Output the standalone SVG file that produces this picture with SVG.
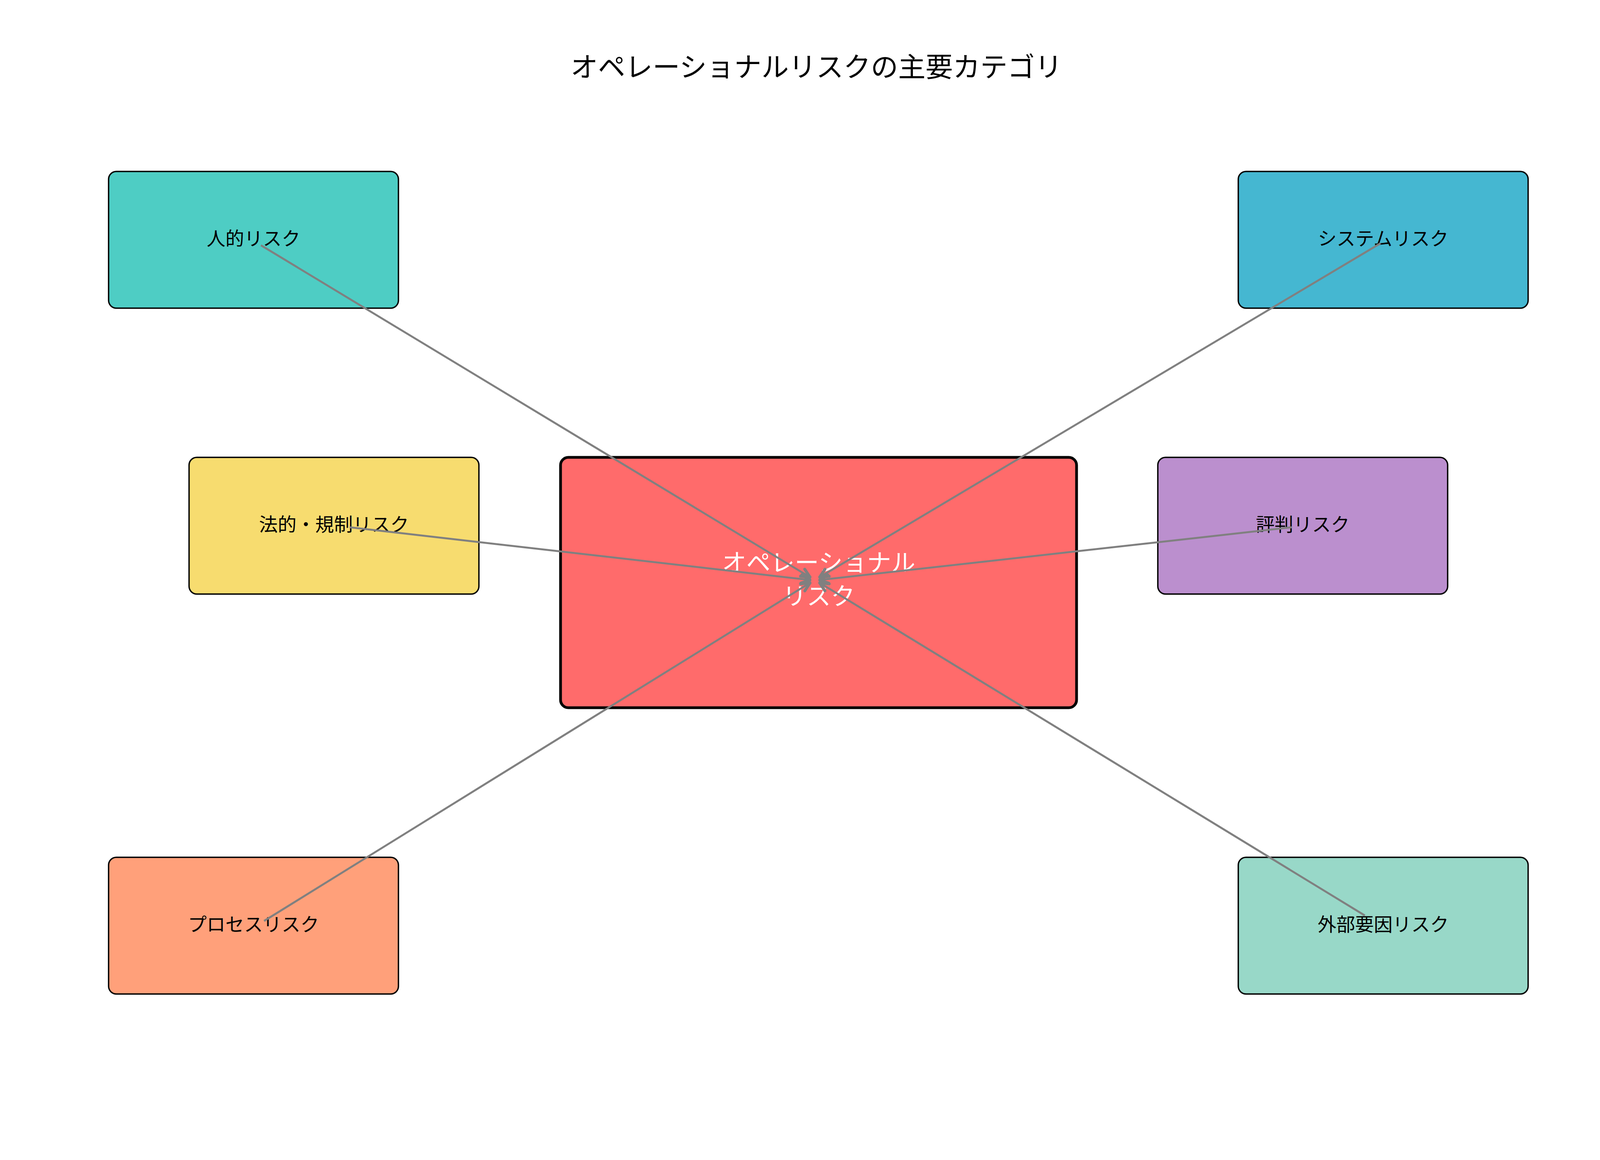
<svg xmlns="http://www.w3.org/2000/svg" width="4170" height="2970" viewBox="0 0 4170 2970">
<style>
text{font-family:"Noto Sans CJK JP","Liberation Sans",sans-serif;text-anchor:middle;dominant-baseline:central}
.n rect{stroke:#000;stroke-width:3.5}
.n text{font-size:48px;fill:#000}
.c{stroke:#808080;stroke-width:5;fill:none;marker-end:url(#ah)}
</style>
<defs>
<marker id="ah" viewBox="0 0 10 10" refX="9" refY="5" markerWidth="6" markerHeight="6" orient="auto" markerUnits="strokeWidth">
<path d="M1.5,1.5 L9,5 L1.5,8.5" fill="none" stroke="#808080" stroke-width="2.5" stroke-linecap="round" stroke-linejoin="round"/>
</marker>
</defs>
<rect width="4170" height="2970" fill="#fff"/>
<text x="2090" y="166" font-size="70">オペレーショナルリスクの主要カテゴリ</text>
<g id="center" class="n"><rect x="1435" y="1171" width="1321" height="641" rx="20" fill="#FF6B6B" style="stroke-width:7"/>
<text x="2096" y="1436" style="font-size:62px;fill:#fff">オペレーショナル</text>
<text x="2096" y="1522" style="font-size:62px;fill:#fff">リスク</text></g>
<g id="human" class="n"><rect x="278" y="439" width="742" height="350" rx="20" fill="#4ECDC4"/><text x="649" y="607">人的リスク</text></g>
<g id="system" class="n"><rect x="3170" y="439" width="742" height="350" rx="20" fill="#45B7D1"/><text x="3541" y="607">システムリスク</text></g>
<g id="legal" class="n"><rect x="484" y="1171" width="742" height="350" rx="20" fill="#F7DC6F"/><text x="855" y="1339">法的・規制リスク</text></g>
<g id="reputation" class="n"><rect x="2964" y="1171" width="742" height="350" rx="20" fill="#BB8FCE"/><text x="3335" y="1339">評判リスク</text></g>
<g id="process" class="n"><rect x="278" y="2195" width="742" height="350" rx="20" fill="#FFA07A"/><text x="649" y="2363">プロセスリスク</text></g>
<g id="external" class="n"><rect x="3170" y="2195" width="742" height="350" rx="20" fill="#98D8C8"/><text x="3541" y="2363">外部要因リスク</text></g>
<g id="connectors">
<line class="c" x1="668" y1="628" x2="2074" y2="1478"/>
<line class="c" x1="895" y1="1350" x2="2074" y2="1485"/>
<line class="c" x1="676" y1="2358" x2="2074" y2="1492"/>
<line class="c" x1="3534" y1="623" x2="2098" y2="1478"/>
<line class="c" x1="3307" y1="1350" x2="2098" y2="1485"/>
<line class="c" x1="3494" y1="2344" x2="2098" y2="1492"/>
</g>
</svg>
